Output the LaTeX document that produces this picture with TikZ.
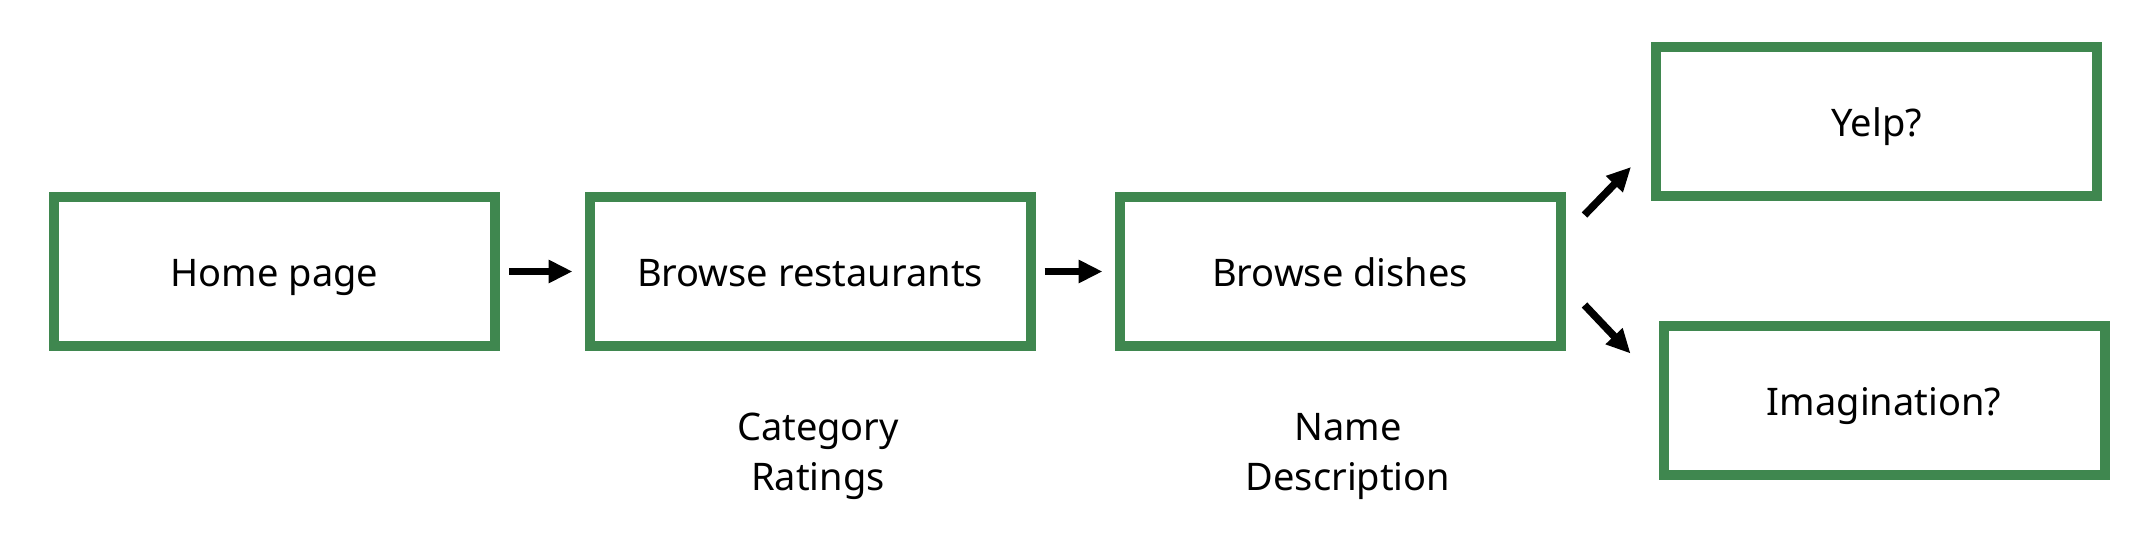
\documentclass[tikz,border=0pt]{standalone}
\usepackage{fontspec}
\setmainfont{Noto Sans}
\usetikzlibrary{arrows.meta,calc}
\definecolor{boxgreen}{HTML}{3F874F}
\begin{document}
\begin{tikzpicture}[x=1pt,y=-1pt,
  stepbox/.style={draw=boxgreen, line width=10pt, minimum width=441pt, minimum height=149pt,
    font=\fontsize{38pt}{50pt}\selectfont, inner sep=0pt, text height=30pt, text depth=0pt},
  note/.style={font=\fontsize{38pt}{50pt}\selectfont, align=center, inner sep=0pt},
  flow/.style={line width=7.5pt, -{Triangle[length=24pt,width=22pt]}}
]
\useasboundingbox (0,0) rectangle (2130,546);
\node[stepbox] (home) at (274.5,271.5) {Home page};
\node[stepbox] (rest) at (810,271.5) {Browse restaurants};
\node[stepbox] (dish) at (1340,271.5) {Browse dishes};
\node[stepbox] (yelp) at (1876.5,121.5) {Yelp?};
\node[stepbox] (imag) at (1884,400) {Imagination?};
\node[note] (restnote) at (818,456) {Category\\Ratings};
\node[note] (dishnote) at (1348,456) {Name\\Description};
\draw[flow, shorten <=9pt, shorten >=12pt] (home.east) -- (rest.west);
\draw[flow, shorten <=9pt, shorten >=12pt] (rest.east) -- (dish.west);
\coordinate (u1) at ($(dish.north east)+(19,23)$);
\coordinate (u2) at ($(yelp.south west)+(-20,-34)$);
\coordinate (d1) at ($(dish.south east)+(19,-46)$);
\coordinate (d2) at ($(imag.north west)+(-28,33)$);
\draw[flow] (u1) -- (u2);
\draw[flow] (d1) -- (d2);
\end{tikzpicture}
\end{document}
